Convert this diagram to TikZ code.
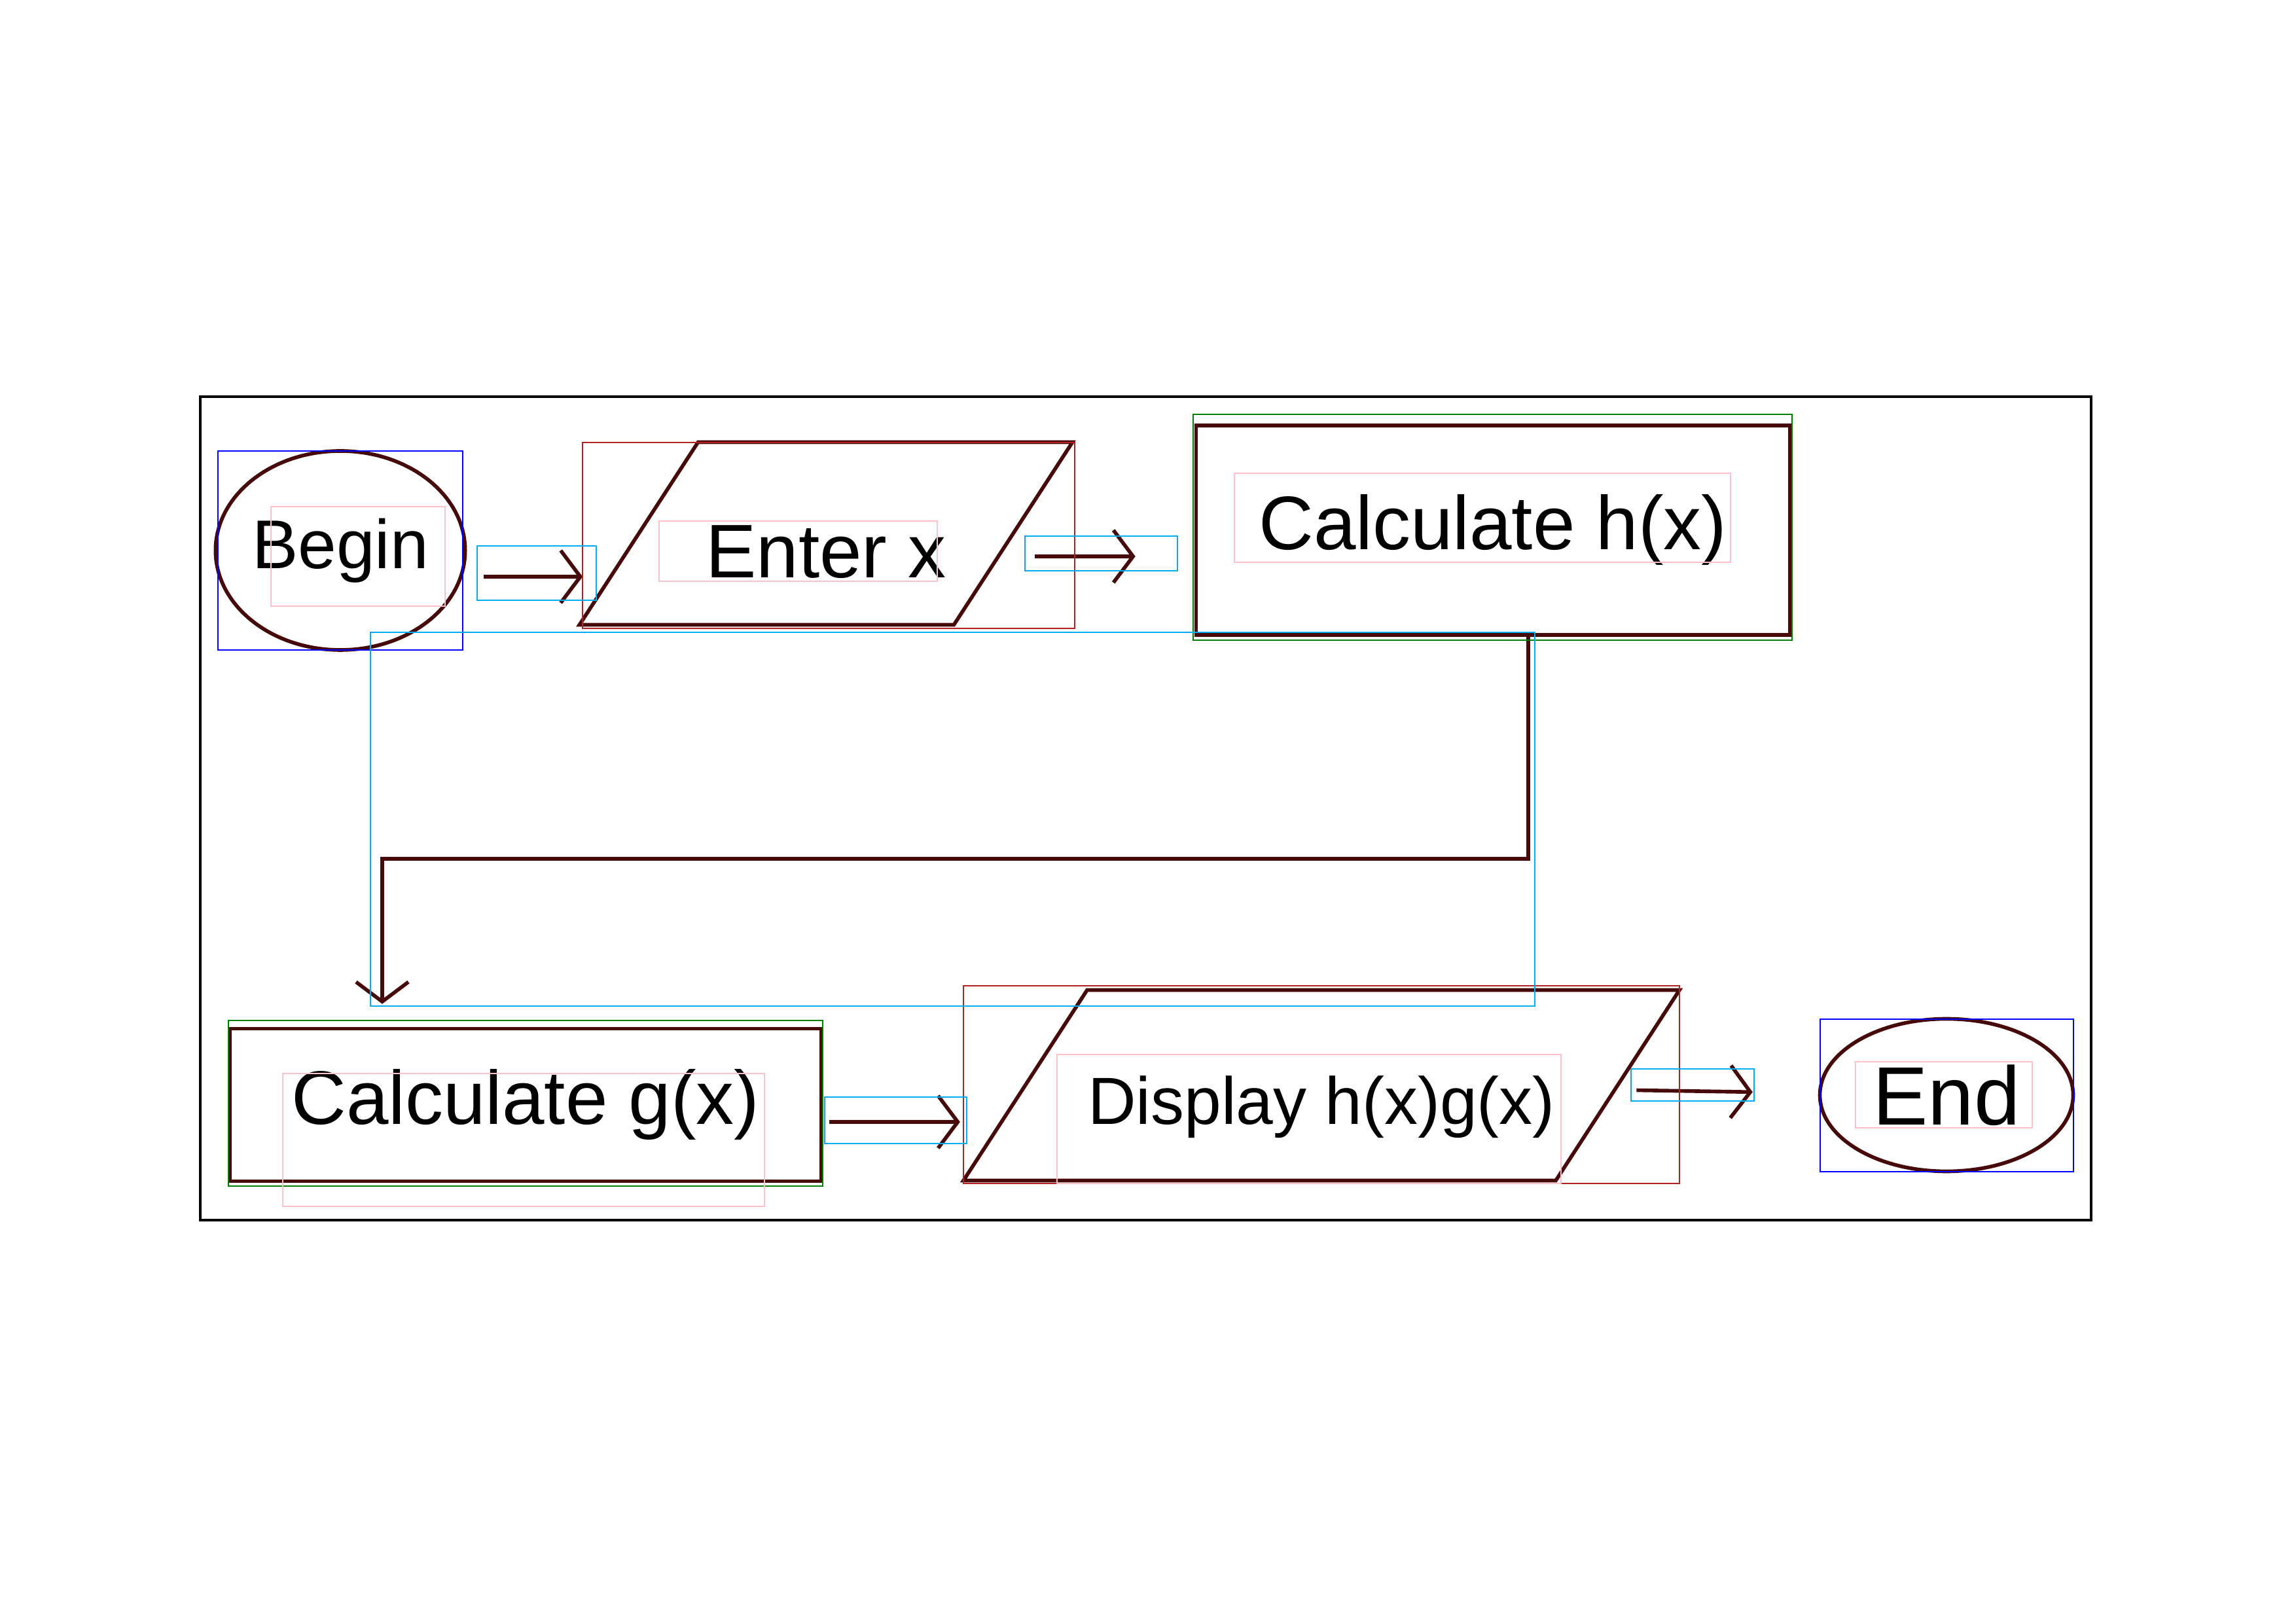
\documentclass[tikz,border=0pt]{standalone}
\usepackage{fontspec}
\setmainfont{Liberation Sans}
\usetikzlibrary{shapes.geometric,arrows.meta}
\definecolor{ink}{RGB}{70,10,10}
\definecolor{boxred}{RGB}{178,34,34}
\definecolor{boxgreen}{RGB}{0,128,0}
\definecolor{boxpink}{RGB}{255,192,203}
\tikzset{
  stroke/.style={draw=ink, line width=1.6pt},
  term/.style={stroke, ellipse, inner sep=0pt},
  proc/.style={stroke, rectangle},
  io/.style={stroke, trapezium, trapezium left angle=57, trapezium right angle=123, trapezium stretches body, inner ysep=0pt},
  flow/.style={ink, line width=1.6pt, -{Straight Barb[length=3mm,width=8mm]}},
  annot/.style={line width=0.6pt},
}
\begin{document}
\begin{tikzpicture}[font=\fontsize{33}{40}\selectfont]
\useasboundingbox (0,0) rectangle (35.08,24.80);
\draw[line width=1.2pt] (3.06,18.74) rectangle (31.95,6.16);
% flowchart
\node[term, minimum width=3.74cm, minimum height=3.04cm, font=\fontsize{30}{36}\selectfont] (begin) at (5.20,16.39) {Begin};
\node[io, minimum width=7.34cm, text height=2.07cm, text depth=0.72cm] (enter) at (12.62,16.65) {Enter x};
\node[proc, minimum width=9.07cm, minimum height=3.2cm] (calch) at (22.81,16.70) {Calculate h(x)};
\node[proc, minimum width=9.03cm, minimum height=2.33cm] (calcg) at (8.03,7.92) {Calculate g(x)};
\node[io, inner xsep=0pt, minimum width=10.94cm, text height=2.05cm, text depth=0.86cm, font=\fontsize{29}{35}\selectfont] (display) at (20.19,8.22) {Display h(x)g(x)};
\node[term, minimum width=3.87cm, minimum height=2.33cm, font=\fontsize{36}{43}\selectfont] (end) at (29.74,8.07) {End};
\coordinate (bendR) at (23.35,11.68);
\coordinate (bendL) at (5.84,11.68);
\draw[flow, shorten <=2.5mm, shorten >=-1mm] ([yshift=-4mm]begin.east) -- ([yshift=-4mm]begin.east -| enter.bottom left corner);
\draw[flow, shorten <=3mm, shorten >=9mm] ([yshift=-3.5mm]enter.east) -- ([yshift=-3.5mm]enter.east -| calch.west);
\draw[flow, shorten >=3.5mm] ([xshift=5.4mm]calch.south) -- (bendR) -- (bendL) -- ([xshift=-2.19cm]calcg.north);
\draw[flow, shorten <=1mm] ([yshift=-2.6mm]calcg.east) -- ([yshift=-2.6mm]calcg.east -| display.bottom left corner);
\draw[flow, shorten <=3mm, shorten >=10mm] (display) -- (end);
% annotation boxes
\draw[annot, blue] (3.33,17.91) rectangle (7.07,14.87);
\draw[annot, blue] (27.81,9.23) rectangle (31.68,6.90);
\draw[annot, boxred] (8.90,18.04) rectangle (16.42,15.20);
\draw[annot, boxred] (14.72,9.74) rectangle (25.66,6.72);
\draw[annot, boxgreen] (18.23,18.47) rectangle (27.38,15.02);
\draw[annot, boxgreen] (3.49,9.21) rectangle (12.57,6.68);
\draw[annot, cyan] (7.29,16.46) rectangle (9.11,15.63);
\draw[annot, cyan] (15.66,16.61) rectangle (17.99,16.08);
\draw[annot, cyan] (5.66,15.14) rectangle (23.45,9.43);
\draw[annot, cyan] (12.60,8.04) rectangle (14.77,7.33);
\draw[annot, cyan] (24.92,8.47) rectangle (26.80,7.98);
\draw[annot, boxpink] (4.14,17.06) rectangle (6.80,15.54);
\draw[annot, boxpink] (10.07,16.84) rectangle (14.32,15.92);
\draw[annot, boxpink] (18.86,17.57) rectangle (26.44,16.21);
\draw[annot, boxpink] (4.32,8.40) rectangle (11.68,6.37);
\draw[annot, boxpink] (16.15,8.69) rectangle (23.85,6.72);
\draw[annot, boxpink] (28.35,8.58) rectangle (31.05,7.57);
\end{tikzpicture}
\end{document}
